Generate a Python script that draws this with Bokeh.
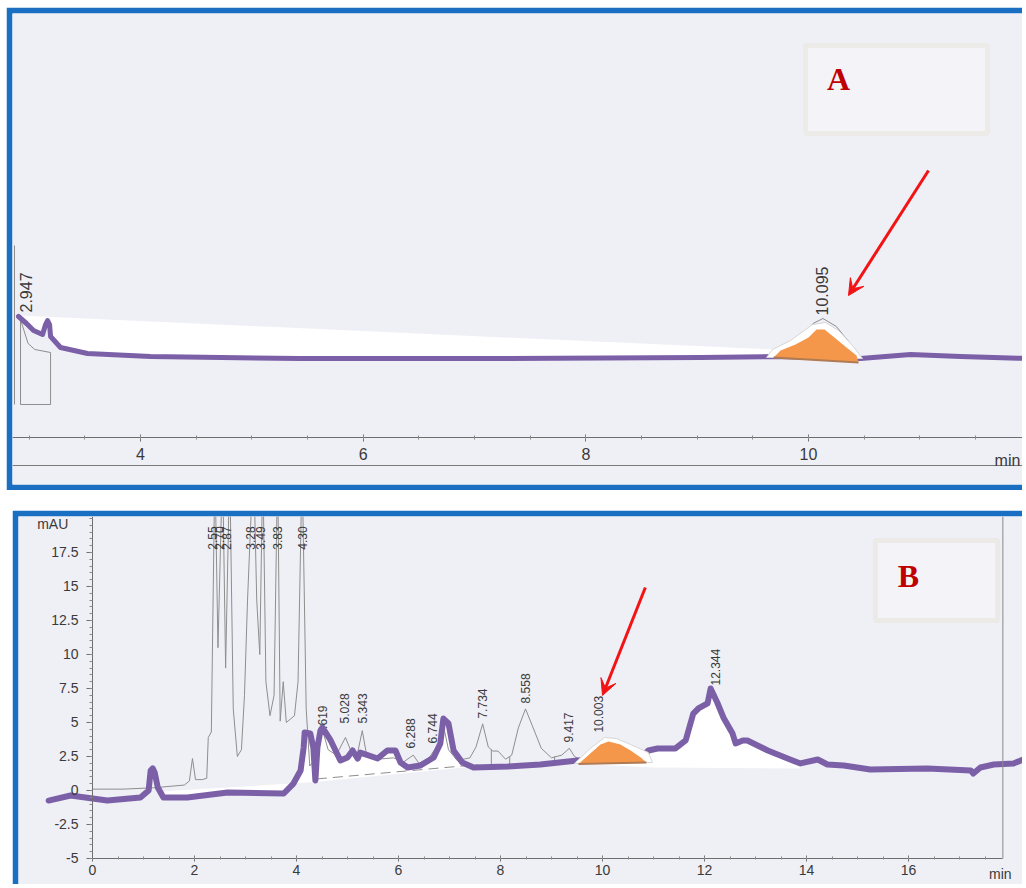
import numpy as np
from bokeh.plotting import figure
from bokeh.models import (LinearAxis, Range1d, SingleIntervalTicker, FixedTicker,
                          NumeralTickFormatter, Arrow, VeeHead, Label, Span, Spacer)
from bokeh.layouts import column, row
from bokeh.core.properties import value
from bokeh.embed import file_html
from bokeh.resources import INLINE

# ---------------- Panel A data (time in min, signal in arbitrary units) ----------------
PURPLE_A_X = [2.904, 2.976, 3.039, 3.120, 3.147, 3.165, 3.183, 3.192, 3.281, 3.524,
              4.090, 5.437, 7.234, 9.030, 9.686, 10.063, 10.467, 10.916, 11.365, 11.958]
PURPLE_A_Y = [4.1, 3.4, 2.7, 2.3, 3.3, 3.7, 3.3, 2.1, 1.0, 0.4,
              0.1, -0.1, -0.1, 0.0, 0.1, 0.0, -0.1, 0.3, 0.1, -0.1]
WHITE_A_X = [2.904, 9.686]
WHITE_A_Y = [4.2, 0.8]
ORANGE_A_X = [9.686, 9.749, 9.883, 10.000, 10.072, 10.144, 10.243, 10.341, 10.431, 10.449]
ORANGE_A_Y = [0.0, 0.7, 1.3, 2.0, 2.8, 2.8, 1.9, 1.0, 0.2, -0.5]
HALO_A_X = [9.623, 9.677, 9.839, 10.036, 10.153, 10.270, 10.395, 10.485]
HALO_A_Y = [0.0, 0.8, 1.7, 3.3, 3.5, 2.7, 1.2, -0.1]
GRAY_A_XS = [[2.868, 2.868], [2.922, 2.922, 3.192, 3.192], [2.922, 2.990, 3.050, 3.192],
             [9.92, 10.04, 10.13, 10.25, 10.36]]
GRAY_A_YS = [[11.2, -4.7], [3.9, -4.7, -4.7, 0.5], [3.8, 1.4, 0.8, 0.5],
             [1.6, 3.4, 3.9, 3.1, 1.6]]
LABELS_A = ["2.947", "10.095"]
LABELS_A_X = [2.967, 10.117]
LABELS_A_Y = [4.5, 4.2]

# ---------------- Panel B data (time in min, mAU) ----------------
PURPLE_B_X = [-0.86, -0.43, 0.29, 0.94, 1.10, 1.14, 1.18, 1.22, 1.28, 1.39,
              1.86, 2.65, 3.75, 3.94, 4.08, 4.14, 4.16, 4.27, 4.33, 4.37,
              4.41, 4.47, 4.51, 4.67, 4.86, 5.00, 5.10, 5.20, 5.25, 5.59,
              5.78, 5.94, 6.04, 6.18, 6.43, 6.69, 6.82, 6.88, 6.98, 7.08,
              7.25, 7.47, 8.14, 8.78, 9.51, 10.20, 10.84, 10.90, 11.08, 11.43,
              11.63, 11.78, 11.88, 12.06, 12.12, 12.25, 12.37, 12.55, 12.61, 12.75,
              12.84, 13.24, 13.63, 13.88, 14.22, 14.41, 14.73, 15.25, 16.37, 17.22,
              17.27, 17.41, 17.67, 18.06, 18.29]
PURPLE_B_Y = [-0.74, -0.37, -0.74, -0.51, 0.00, 1.47, 1.62, 1.32, 0.22, -0.51,
              -0.51, -0.15, -0.22, 0.51, 1.47, 3.16, 4.26, 4.19, 3.16, 0.74,
              3.16, 4.41, 4.63, 3.68, 2.21, 2.43, 2.94, 2.35, 2.79, 2.35,
              2.94, 2.94, 2.06, 1.69, 1.84, 2.43, 3.46, 5.29, 4.93, 2.94,
              2.06, 1.69, 1.76, 1.91, 2.21, 2.30, 2.72, 2.94, 3.09, 3.09,
              3.68, 5.66, 6.03, 6.40, 7.50, 6.47, 5.37, 4.19, 3.46, 3.68,
              3.68, 2.94, 2.35, 1.99, 2.28, 1.91, 1.84, 1.54, 1.62, 1.47,
              1.25, 1.69, 1.91, 1.99, 2.35]
BASE_B_X = [1.39, 4.30, 7.60, 9.50, 11.00, 13.88]
BASE_B_Y = [-0.05, 0.60, 1.80, 1.95, 1.70, 1.62]
GRAY_B_X = [0.00, 0.60, 1.20, 1.80, 1.90, 1.96, 2.02, 2.15, 2.24, 2.27,
            2.33, 2.40, 2.46, 2.55, 2.61, 2.69, 2.76, 2.84, 2.92, 2.98,
            3.04, 3.10, 3.16, 3.22, 3.28, 3.34, 3.40, 3.48, 3.56, 3.63,
            3.68, 3.74, 3.80, 3.96, 4.03, 4.11, 4.19, 4.26, 4.34, 4.42,
            4.52, 4.62, 4.78, 4.96, 5.10, 5.20, 5.29, 5.38, 5.60, 5.90,
            6.10, 6.29, 6.40, 6.60, 6.78, 6.88, 6.98, 7.15, 7.40, 7.52,
            7.65, 7.76, 7.85, 7.95, 8.10, 8.22, 8.35, 8.49, 8.62, 8.80,
            9.00, 9.20, 9.35, 9.45, 9.60]
GRAY_B_Y = [0.10, 0.10, 0.20, 0.40, 0.70, 2.35, 0.80, 0.80, 0.90, 3.90,
            4.30, 24.0, 10.5, 24.0, 9.0, 24.0, 6.0, 2.5, 3.0, 7.0,
            14.0, 19.5, 24.0, 14.0, 10.0, 24.0, 8.0, 5.5, 7.0, 24.0,
            5.1, 8.0, 5.0, 5.5, 8.0, 24.0, 6.0, 1.8, 2.2, 3.8,
            4.3, 3.0, 2.6, 3.9, 2.6, 2.8, 4.4, 2.5, 2.3, 2.4,
            2.1, 2.6, 2.0, 2.4, 3.4, 4.8, 3.0, 2.2, 2.4, 3.2,
            4.9, 3.2, 2.9, 2.9, 2.3, 2.6, 4.6, 6.0, 4.8, 3.1,
            2.4, 2.6, 3.1, 2.5, 2.2]
DASH_B_X = [4.40, 7.55]
DASH_B_Y = [0.85, 1.90]
DROP_B_X = [7.82, 8.18, 9.06]
DROP_B_Y0 = [1.8, 1.8, 1.9]
DROP_B_Y1 = [3.0, 2.5, 2.5]
ORANGE_B_X = [9.53, 9.76, 9.96, 10.12, 10.35, 10.55, 10.75, 10.86]
ORANGE_B_Y = [1.95, 2.72, 3.38, 3.60, 3.38, 2.94, 2.43, 2.06]
HALO_B_X = [9.45, 9.76, 10.04, 10.27, 10.55, 10.90, 10.98]
HALO_B_Y = [1.99, 3.09, 3.90, 3.82, 3.38, 2.79, 2.06]
TOP_LABELS = ["2.55", "2.70", "2.87", "3.28", "3.49", "3.83", "4.30"]
TOP_LABELS_X = [2.35, 2.49, 2.63, 3.10, 3.29, 3.63, 4.12]
TOP_LABELS_Y = [17.7, 17.7, 17.7, 17.7, 17.7, 17.7, 17.7]
MID_LABELS = ["4.619", "5.028", "5.343", "6.288", "6.744", "7.734", "8.558", "9.417", "10.003", "12.344"]
MID_LABELS_X = [4.51, 4.94, 5.29, 6.24, 6.67, 7.65, 8.49, 9.33, 9.92, 12.22]
MID_LABELS_Y = [4.04, 4.93, 4.93, 3.09, 3.46, 5.29, 6.40, 3.53, 4.26, 7.72]
X_TICKS_B = [0, 2, 4, 6, 8, 10, 12, 14, 16]
Y_TICKS_B = [-5, -2.5, 0, 2.5, 5, 7.5, 10, 12.5, 15, 17.5]

# ---------------- styles ----------------
BLUE = "#1a6fc2"
PAPER = "#efeff6"
PURPLE = "#7b60a8"
ORANGE = "#f4974a"
BROWN = "#b07a52"
GRAY = "#8e8e8e"
RED = "#f21414"
DARKRED = "#c00000"
TXT = "#3a3a3a"
SANS = "Liberation Sans"
SERIF = "Liberation Serif"
BW = 6  # blue frame thickness


def base_fig(w, h, xr, yr, bottom):
    p = figure(width=w, height=h, x_range=Range1d(*xr), y_range=Range1d(*yr),
               x_axis_type=None, y_axis_type=None, output_backend="svg",
               toolbar_location=None, min_border_left=BW, min_border_top=BW,
               min_border_right=0, min_border_bottom=bottom)
    p.border_fill_color = BLUE
    p.background_fill_color = PAPER
    p.outline_line_color = None
    return p


def style_axis(ax, size):
    ax.axis_line_color = "#6e6e6e"
    ax.major_tick_line_color = "#6e6e6e"
    ax.minor_tick_line_color = "#8a8a8a"
    ax.major_label_text_font = SANS
    ax.major_label_text_font_size = size
    ax.major_label_text_color = TXT


# ================= Panel A =================
pA = base_fig(1016, 483, (2.850, 11.922), (-12.7, 34.4), BW)

pA.quad(left=[9.973], right=[11.608], top=[31.2], bottom=[22.4],
        fill_color="#f3f3f8", line_color="#ecebe8", line_width=5)

idxA = [i for i, x in enumerate(PURPLE_A_X) if x <= WHITE_A_X[-1]]
pA.patch([PURPLE_A_X[i] for i in idxA] + WHITE_A_X[::-1],
         [PURPLE_A_Y[i] for i in idxA] + WHITE_A_Y[::-1],
         fill_color="white", line_color=None)
pA.multi_line(GRAY_A_XS, GRAY_A_YS, line_color=GRAY, line_width=1)
pA.line(PURPLE_A_X, PURPLE_A_Y, line_color=PURPLE, line_width=5,
        line_join="round", line_cap="round")
pA.patch(HALO_A_X, HALO_A_Y, fill_color="white", line_color="#d6d6d6", line_width=1)
pA.patch(ORANGE_A_X, ORANGE_A_Y, fill_color=ORANGE, line_color=None)
pA.line([ORANGE_A_X[0], ORANGE_A_X[-1]], [ORANGE_A_Y[0], ORANGE_A_Y[-1]],
        line_color=BROWN, line_width=2)
pA.text(x=LABELS_A_X, y=LABELS_A_Y, text=LABELS_A, angle=np.pi / 2,
        text_align="left", text_baseline="middle", text_font=value(SANS),
        text_font_size="16px", text_color=TXT)

axA = LinearAxis(fixed_location=-8.0, ticker=SingleIntervalTicker(interval=2, num_minor_ticks=4))
style_axis(axA, "16px")
axA.major_tick_in = 3
axA.major_tick_out = 4
axA.minor_tick_in = 2
axA.minor_tick_out = 2
axA.major_label_standoff = 6
pA.add_layout(axA, "below")
pA.add_layout(Span(location=-10.8, dimension="width", line_color="#7a7a7a", line_width=1))
pA.add_layout(Label(x=11.671, y=-10.3, text="min", text_align="left", text_baseline="middle",
                    text_font=SANS, text_font_size="16px", text_color=TXT))
pA.add_layout(Label(x=10.27, y=27.9, text="A", text_align="center", text_baseline="middle",
                    text_font=SERIF, text_font_style="bold", text_font_size="32px",
                    text_color=DARKRED))
pA.add_layout(Arrow(end=VeeHead(size=16, fill_color=RED, line_color=RED),
                    x_start=11.078, y_start=18.7, x_end=10.359, y_end=6.2,
                    line_color=RED, line_width=3))

# ================= Panel B =================
Y_TOP_B = 20.147
pB = base_fig(1010, 374, (-1.451, 18.235), (-6.912, Y_TOP_B), 0)

pB.quad(left=[15.35], right=[17.75], top=[18.38], bottom=[12.5],
        fill_color="#f3f3f8", line_color="#eceae6", line_width=5)

idxB = [i for i, x in enumerate(PURPLE_B_X) if BASE_B_X[0] <= x <= BASE_B_X[-1]]
pB.patch([PURPLE_B_X[i] for i in idxB] + BASE_B_X[::-1],
         [PURPLE_B_Y[i] for i in idxB] + BASE_B_Y[::-1],
         fill_color="white", line_color=None)
pB.line(GRAY_B_X, GRAY_B_Y, line_color=GRAY, line_width=1)
pB.line(DASH_B_X, DASH_B_Y, line_color=GRAY, line_width=1, line_dash="10 6")
pB.segment(x0=DROP_B_X, y0=DROP_B_Y0, x1=DROP_B_X, y1=DROP_B_Y1, line_color=GRAY, line_width=1)
pB.text(x=TOP_LABELS_X, y=TOP_LABELS_Y, text=TOP_LABELS, angle=np.pi / 2,
        text_align="left", text_baseline="middle", text_font=value(SANS),
        text_font_size="12px", text_color=TXT)
pB.text(x=MID_LABELS_X, y=MID_LABELS_Y, text=MID_LABELS, angle=np.pi / 2,
        text_align="left", text_baseline="middle", text_font=value(SANS),
        text_font_size="12px", text_color=TXT)
pB.line(PURPLE_B_X, PURPLE_B_Y, line_color=PURPLE, line_width=6,
        line_join="round", line_cap="round")
pB.patch(HALO_B_X, HALO_B_Y, fill_color="white", line_color="#d6d6d6", line_width=1)
pB.patch(ORANGE_B_X, ORANGE_B_Y, fill_color=ORANGE, line_color=None)
pB.line([ORANGE_B_X[0], ORANGE_B_X[-1]], [ORANGE_B_Y[0], ORANGE_B_Y[-1]],
        line_color=BROWN, line_width=2)

FRAME_RIGHT_B = 17.85
pB.segment(x0=[FRAME_RIGHT_B], y0=[-5], x1=[FRAME_RIGHT_B], y1=[Y_TOP_B],
           line_color="#8a8a8a", line_width=1)

axBx = LinearAxis(fixed_location=-5,
                  ticker=FixedTicker(ticks=X_TICKS_B, minor_ticks=list(np.arange(0, 17.6, 0.5))),
                  bounds=(0, FRAME_RIGHT_B))
style_axis(axBx, "14px")
axBx.major_tick_in = 3
axBx.major_tick_out = 3
axBx.minor_tick_in = 2
axBx.minor_tick_out = 1
axBx.major_label_standoff = 4
pB.add_layout(axBx, "below")

axBy = LinearAxis(fixed_location=0,
                  ticker=FixedTicker(ticks=Y_TICKS_B, minor_ticks=list(np.arange(-5, 20.1, 0.5))),
                  formatter=NumeralTickFormatter(format="0.[0]"), bounds=(-5, Y_TOP_B))
style_axis(axBy, "14px")
axBy.major_tick_in = 0
axBy.major_tick_out = 6
axBy.minor_tick_in = 0
axBy.minor_tick_out = 3
axBy.major_label_standoff = 8
pB.add_layout(axBy, "left")

pB.add_layout(Label(x=-0.78, y=19.56, text="mAU", text_align="center", text_baseline="middle",
                    text_font=SANS, text_font_size="14px", text_color=TXT))
pB.add_layout(Label(x=17.80, y=-6.15, text="min", text_align="center", text_baseline="middle",
                    text_font=SANS, text_font_size="14px", text_color=TXT))
pB.add_layout(Label(x=16.0, y=15.8, text="B", text_align="center", text_baseline="middle",
                    text_font=SERIF, text_font_style="bold", text_font_size="32px",
                    text_color=DARKRED))
pB.add_layout(Arrow(end=VeeHead(size=16, fill_color=RED, line_color=RED),
                    x_start=10.84, y_start=14.93, x_end=10.0, y_end=6.99,
                    line_color=RED, line_width=3))

layout = column(
    Spacer(width=10, height=7),
    row(Spacer(width=6, height=483), pA),
    Spacer(width=10, height=20),
    row(Spacer(width=12, height=374), pB),
)
open("out.html", "w").write(file_html(layout, INLINE))
